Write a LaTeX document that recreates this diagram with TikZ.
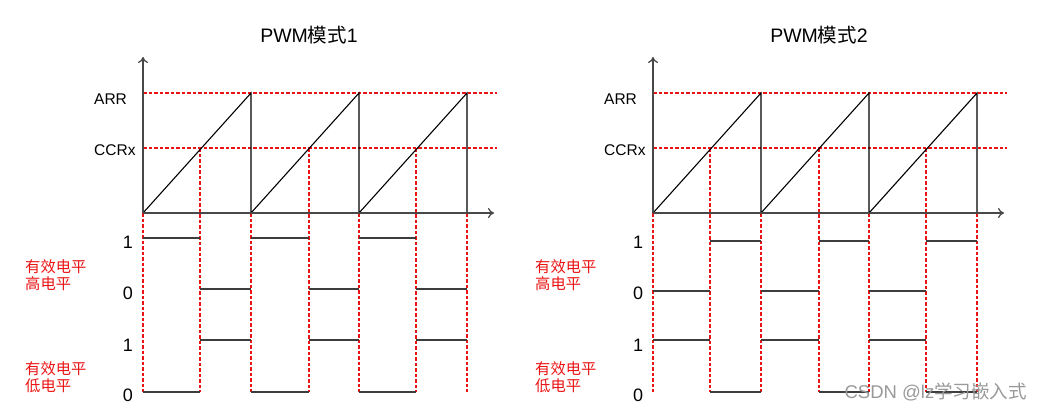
\documentclass[tikz,border=0pt]{standalone}
\usepackage{fontspec}
\setmainfont{Liberation Sans}
\newfontfamily\cjk{Noto Sans CJK SC}
\usetikzlibrary{arrows.meta}
\definecolor{dred}{RGB}{235,20,20}
\definecolor{lblack}{RGB}{40,40,40}
\tikzset{
  axis/.style={line width=1.3pt, draw=lblack!85, -{To[length=6pt,width=10pt]}},
  guide/.style={draw=dred, line width=1.1pt, dash pattern=on 3.5pt off 2pt},
  saw/.style={draw=black, line width=1.1pt},
  sig/.style={draw=lblack!90, line width=1.4pt},
  lbl/.style={font=\fontsize{15.5}{17}\selectfont, text=black, inner sep=0pt},
  lvl/.style={font=\fontsize{18}{20}\selectfont, text=black, inner sep=0pt},
  redlbl/.style={font=\fontsize{15.3}{17.5}\selectfont\cjk, text=dred, inner sep=0pt, align=left, anchor=west},
  ttl/.style={font=\fontsize{19.5}{21}\selectfont, text=black, inner sep=0pt},
}
\begin{document}
\begin{tikzpicture}[x=1pt,y=-1pt]
\useasboundingbox (0,0) rectangle (1047,412);
\foreach \ox/\m in {0/1,510/2}{
  % titles
  \node[ttl] (title\m) at (\ox+309,35) {PWM{\cjk 模式}\m};
  % guides
  \draw[guide] (\ox+143,93) -- (\ox+497,93);
  \draw[guide] (\ox+143,148) -- (\ox+497,148);
  \foreach \p in {143,251,359,467}{
    \draw[guide] (\ox+\p,213) -- (\ox+\p,392);
  }
  \foreach \c in {200,309,416}{
    \draw[guide] (\ox+\c,148) -- (\ox+\c,392);
  }
  % sawtooth
  \draw[saw] (\ox+143,213) -- (\ox+251,93) -- (\ox+251,213) -- (\ox+359,93) -- (\ox+359,213) -- (\ox+467,93) -- (\ox+467,213);
  % axes
  \draw[axis] (\ox+143,213) -- (\ox+143,57);
  \draw[axis] (\ox+143,213) -- (\ox+494,213);
  % labels
  \node[lbl, anchor=west] (arr\m) at (\ox+94,99) {ARR};
  \node[lbl, anchor=west] (ccr\m) at (\ox+94,150) {CCRx};
  \node[lvl] (a1\m) at (\ox+128,242) {1};
  \node[lvl] (a0\m) at (\ox+128,293) {0};
  \node[lvl] (b1\m) at (\ox+128,345) {1};
  \node[lvl] (b0\m) at (\ox+128,395) {0};
  \node[redlbl] (ra\m) at (\ox+25,275) {有效电平\\高电平};
  \node[redlbl] (rb\m) at (\ox+25,377) {有效电平\\低电平};
}
% mode 1 signals
\foreach \p/\c/\n in {143/200/251,251/309/359,359/416/467}{
  \draw[sig] (\p,238) -- (\c,238);
  \draw[sig] (\c,289) -- (\n,289);
  \draw[sig] (\p,392) -- (\c,392);
  \draw[sig] (\c,340) -- (\n,340);
}
% mode 2 signals
\foreach \p/\c/\n in {653/710/761,761/819/869,869/926/977}{
  \draw[sig] (\p,291) -- (\c,291);
  \draw[sig] (\c,241) -- (\n,241);
  \draw[sig] (\p,340) -- (\c,340);
  \draw[sig] (\c,392) -- (\n,392);
}
\node[font=\fontsize{18.5}{20}\selectfont, text=black!40, anchor=east, inner sep=0pt] (wm) at (1027,392) {CSDN @lz{\cjk 学习嵌入式}};
\end{tikzpicture}
\end{document}
